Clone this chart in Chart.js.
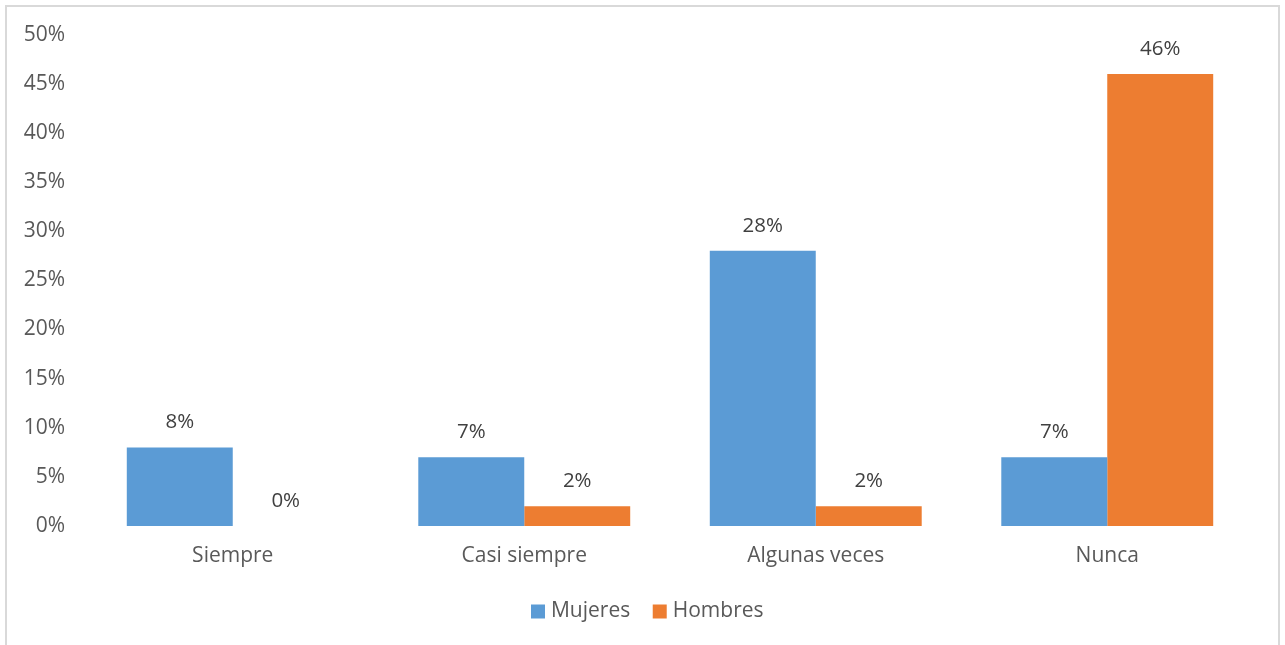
<!DOCTYPE html>
<html>
<head>
<meta charset="utf-8">
<script src="https://cdn.jsdelivr.net/npm/chart.js@4.4.1/dist/chart.umd.min.js"></script>
<style>
    html, body { margin: 0; padding: 0; background: #fff; overflow: hidden; }
    #frame {
        position: absolute; left: 5px; top: 5px; width: 1275px; height: 700px;
        border: 2px solid #d9d9d9; box-sizing: border-box;
    }
    #wrap { position: absolute; left: 0; top: 0; width: 1285px; height: 645px; }
</style>
</head>
<body>
<div id="frame"></div>
<div id="wrap"><canvas id="chart" width="1285" height="645"></canvas></div>
<script>
const categories = ['Siempre', 'Casi siempre', 'Algunas veces', 'Nunca'];
const mujeres = [8, 7, 28, 7];
const hombres = [0, 2, 2, 46];
const seriesNames = ['Mujeres', 'Hombres'];

const fontFamily = "'Open Sans', 'Noto Sans', sans-serif";
const fontSize = 21;

// draws the value above each bar
const valueLabels = {
    id: 'valueLabels',
    afterDatasetsDraw(chart) {
        const ctx = chart.ctx;
        ctx.save();
        ctx.font = '20.5px ' + fontFamily;
        ctx.fillStyle = '#404040';
        ctx.textAlign = 'center';
        ctx.textBaseline = 'middle';
        chart.data.datasets.forEach((ds, i) => {
            chart.getDatasetMeta(i).data.forEach((bar, j) => {
                ctx.fillText(ds.data[j] + '%', bar.x, bar.y - 25);
            });
        });
        ctx.restore();
    }
};

// the legend sits a little right of the canvas centre
const legendShift = {
    id: 'legendShift',
    afterLayout(chart) {
        chart.legend.left += 23;
        chart.legend.right += 23;
    }
};

new Chart(document.getElementById('chart').getContext('2d'), {
    type: 'bar',
    data: {
        labels: categories,
        datasets: [{
            label: seriesNames[0],
            data: mujeres,
            backgroundColor: '#5b9bd5',
            categoryPercentage: 0.727,
            barPercentage: 1
        }, {
            label: seriesNames[1],
            data: hombres,
            backgroundColor: '#ed7d31',
            categoryPercentage: 0.727,
            barPercentage: 1
        }]
    },
    options: {
        responsive: false,
        animation: false,
        layout: { padding: { top: 34, right: 32, bottom: 13, left: 0 } },
        plugins: {
            tooltip: { enabled: false },
            legend: {
                position: 'bottom',
                labels: {
                    font: { family: fontFamily, size: fontSize },
                    color: '#595959',
                    usePointStyle: true,
                    pointStyle: 'rect',
                    boxWidth: 5,
                    boxHeight: 14,
                    padding: 27
                }
            }
        },
        scales: {
            x: {
                grid: { display: false, drawTicks: false },
                border: { display: false },
                ticks: {
                    font: { family: fontFamily, size: fontSize },
                    color: '#595959',
                    padding: 17,
                    maxRotation: 0
                },
                afterFit(scale) { scale.height = 48; }
            },
            y: {
                min: 0,
                max: 50,
                grid: { display: false, drawTicks: false },
                border: { display: false },
                ticks: {
                    stepSize: 5,
                    font: { family: fontFamily, size: fontSize },
                    color: '#595959',
                    padding: 22,
                    callback: v => v + '%'
                },
                afterFit(scale) { scale.width = 87; }
            }
        }
    },
    plugins: [valueLabels, legendShift]
});
</script>
</body>
</html>
